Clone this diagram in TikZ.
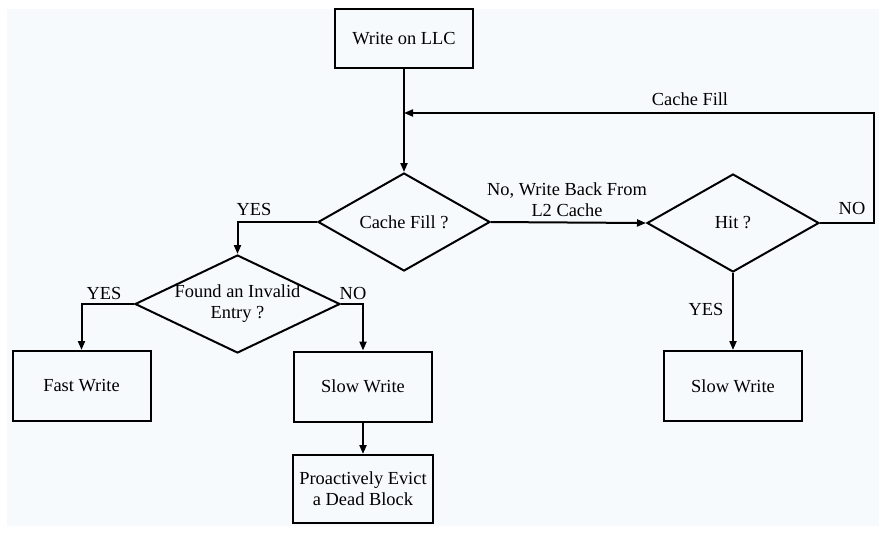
\documentclass[tikz,border=0pt]{standalone}
\usepackage{fontspec}
\setmainfont{Liberation Serif}
\usetikzlibrary{shapes.geometric, arrows.meta, positioning}
\definecolor{paperblue}{RGB}{247,250,253}

\begin{document}
\begin{tikzpicture}[
    x=0.5pt, y=-0.5pt,
    box/.style={rectangle, draw=black, line width=1pt, minimum width=69pt, minimum height=35pt, font=\fontsize{9.2}{10.5}\selectfont},
    decision/.style={diamond, draw=black, line width=1pt, inner sep=0pt, aspect=1.75, minimum width=86pt, minimum height=49pt, font=\fontsize{9.2}{10.5}\selectfont},
    txt/.style={font=\fontsize{9.2}{10.5}\selectfont, inner sep=1pt, align=center},
    arrow/.style={-{Triangle[length=4.5pt, width=3.5pt]}, line width=1pt}
]
    \useasboundingbox (0,0) rectangle (883,542);
    \fill[paperblue] (7,9) rectangle (879,526);

    % Start
    \node[box, minimum height=29.5pt] (llc) at (404,38.5) {Write on LLC};

    % Decisions
    \node[decision] (cfill) at (404,222) {Cache Fill ?};
    \node[decision] (hit) at (733,223) {Hit ?};
    \node[decision, minimum width=102.5pt] (found) at (237.5,304) {};
    \node[txt] (foundtxt) at (found) {Found an Invalid\\Entry ?};

    % Outcomes
    \node[box] (fast) at (81.5,386) {Fast Write};
    \node[box] (slowmid) at (363,386.5) {Slow Write};
    \node[box] (slowright) at (733,386) {Slow Write};
    \node[box, minimum height=34pt, align=center] (evict) at (363,489) {Proactively Evict\\a Dead Block};

    % Helper points of the fill loop
    \coordinate (loopturn) at (874,113);
    \coordinate (loopjoin) at (404,113);

    % Arrows
    \draw[arrow] (llc) -- (cfill.north);
    \draw[arrow] (cfill.west) -| (found.north);
    \draw[arrow] (cfill.east) -- (hit.west);
    \draw[arrow] (hit.east) -| (loopturn) -- (loopjoin);
    \draw[arrow] (hit.south) -- (slowright.north);
    \draw[arrow] (found.west) -| (fast.north);
    \draw[arrow] (found.east) -| (slowmid.north);
    \draw[arrow] (slowmid) -- (evict);

    % Labels
    \node[txt] (yesfill) at (254,209) {YES};
    \node[txt] (nofill) at (567,199.5) {No, Write Back From\\L2 Cache};
    \node[txt] (nohit) at (852,208) {NO};
    \node[txt] (fillloop) at (690,99) {Cache Fill};
    \node[txt] (yeshit) at (706,309) {YES};
    \node[txt] (yesfound) at (104,293) {YES};
    \node[txt] (nofound) at (353,293) {NO};
\end{tikzpicture}
\end{document}
